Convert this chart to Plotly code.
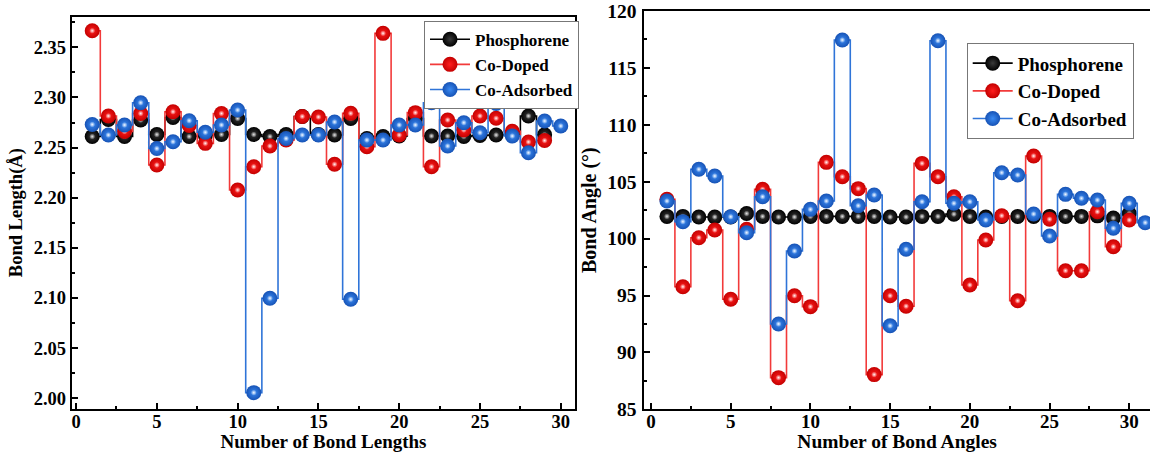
import plotly.graph_objects as go

# ---- bond lengths (Å) ----
len_idx = list(range(1, 30))
len_idx_ads = list(range(1, 31))
phos_len = [2.261, 2.278, 2.261, 2.2775, 2.263, 2.280, 2.261, 2.262, 2.263, 2.279,
            2.263, 2.261, 2.263, 2.281, 2.263, 2.2625, 2.279, 2.259, 2.261, 2.2615,
            2.279, 2.2615, 2.2615, 2.261, 2.262, 2.2625, 2.263, 2.2815, 2.2628]
codoped_len = [2.3665, 2.2815, 2.266, 2.284, 2.2326, 2.2857, 2.272, 2.2542, 2.284, 2.2077,
               2.2309, 2.2515, 2.2575, 2.281, 2.2805, 2.2333, 2.2841, 2.2508, 2.3639, 2.2625,
               2.2848, 2.2309, 2.2775, 2.2675, 2.2815, 2.2792, 2.2663, 2.2556, 2.257]
coads_len = [2.273, 2.2625, 2.2725, 2.2947, 2.249, 2.2558, 2.2768, 2.2652, 2.2725, 2.2874,
             2.0056, 2.0997, 2.259, 2.2625, 2.2625, 2.2755, 2.0987, 2.2575, 2.2575, 2.2725,
             2.2725, 2.2947, 2.2515, 2.2748, 2.2648, 2.294, 2.2615, 2.2448, 2.2765, 2.2715]

# ---- bond angles (°) ----
ang_idx = list(range(1, 31))
ang_idx_ads = list(range(1, 32))
phos_ang = [101.95, 101.95, 101.9, 101.9, 101.9, 102.2, 101.95, 101.9, 101.9, 101.95,
            101.95, 101.95, 101.95, 101.95, 101.9, 101.9, 101.95, 101.95, 102.15, 101.95,
            101.9, 101.95, 101.95, 101.95, 101.95, 101.95, 101.95, 102.0, 101.8, 102.2]
codoped_ang = [103.45, 95.77, 100.08, 100.76, 94.67, 100.82, 104.33, 87.78, 94.98, 94.02,
               106.70, 105.44, 104.39, 88.05, 94.98, 94.06, 106.61, 105.44, 103.68, 95.92,
               99.88, 102.01, 94.54, 107.26, 101.70, 97.18, 97.18, 102.36, 99.29, 101.63]
coads_ang = [103.30, 101.49, 106.09, 105.50, 101.92, 100.52, 103.68, 92.50, 98.91, 102.57,
             103.30, 117.45, 102.89, 103.83, 92.34, 99.06, 103.24, 117.39, 103.10, 103.24,
             101.63, 105.79, 105.59, 102.16, 100.23, 103.89, 103.54, 103.39, 100.91, 103.10,
             101.40]

# line colour, sphere edge colour, sphere core colour, highlight colour
styles = {
    "Phosphorene": ("#000000", "#000000", "#3a3a3a", "rgba(235,235,235,0.95)"),
    "Co-Doped": ("#f23a3a", "#c40000", "#ff1e1e", "rgba(255,255,255,0.95)"),
    "Co-Adsorbed": ("#2f74d8", "#1652b5", "#3a8af2", "rgba(255,255,255,0.95)"),
}

FONT = "Liberation Serif"

fig = go.Figure()


def add_series(x, y, name, xa, ya, legend):
    line_c, edge_c, core_c, hl_c = styles[name]
    fig.add_trace(go.Scatter(
        x=x, y=y, name=name, mode="lines+markers",
        xaxis=xa, yaxis=ya, legend=legend,
        line=dict(shape="hvh", color=line_c, width=1.6),
        marker=dict(size=15, color=edge_c,
                    gradient=dict(type="radial", color=core_c),
                    line=dict(width=0)),
    ))
    # glossy spot on each sphere
    fig.add_trace(go.Scatter(
        x=x, y=y, mode="markers", xaxis=xa, yaxis=ya,
        showlegend=False, hoverinfo="skip",
        marker=dict(size=6, color="rgba(255,255,255,0)",
                    gradient=dict(type="radial", color=hl_c),
                    line=dict(width=0)),
    ))


add_series(len_idx, phos_len, "Phosphorene", "x", "y", "legend")
add_series(len_idx, codoped_len, "Co-Doped", "x", "y", "legend")
add_series(len_idx_ads, coads_len, "Co-Adsorbed", "x", "y", "legend")

add_series(ang_idx, phos_ang, "Phosphorene", "x2", "y2", "legend2")
add_series(ang_idx, codoped_ang, "Co-Doped", "x2", "y2", "legend2")
add_series(ang_idx_ads, coads_ang, "Co-Adsorbed", "x2", "y2", "legend2")

W, H = 1150, 452


def axis(domain, rng, dtick, minor_dtick, title, size, title_size, standoff, anchor,
         tickformat=None, mirror=True, label_standoff=0):
    return dict(
        domain=domain, range=rng, anchor=anchor, autorange=False,
        tick0=0, dtick=dtick, tickformat=tickformat,
        ticks="inside", ticklen=6, tickwidth=2, tickcolor="black",
        ticklabelstandoff=label_standoff,
        showline=True, linewidth=2, linecolor="black", mirror=mirror,
        showgrid=False, zeroline=False, automargin=False,
        tickfont=dict(family=FONT, size=size, color="black", weight="bold"),
        minor=dict(ticks="inside", ticklen=3, tickwidth=1.5, tickcolor="black",
                   dtick=minor_dtick, tick0=0, showgrid=False),
        title=dict(text=title, standoff=standoff,
                   font=dict(family=FONT, size=title_size, color="black", weight="bold")),
    )


fig.update_layout(
    width=W, height=H,
    margin=dict(l=0, r=0, t=0, b=0),
    paper_bgcolor="white", plot_bgcolor="rgba(0,0,0,0)",
    xaxis=axis([71.7 / W, 575.3 / W], [-0.27, 30.9], 5, 2.5,
               "Number of Bond Lengths", 18.5, 19, 2, "y", label_standoff=-5),
    yaxis=axis([1 - 408.7 / H, 1 - 16.7 / H], [1.9896, 2.3805], 0.05, 0.025,
               "Bond Length(Å)", 18.5, 18.5, 6, "x", tickformat=".2f"),
    xaxis2=axis([644.3 / W, 1.0], [-0.42, 31.3], 5, 2.5,
                "Number of Bond Angles", 19, 19.5, 4, "y2", label_standoff=-6),
    yaxis2=axis([1 - 409.3 / H, 1 - 11 / H], [85, 120], 5, 2.5,
                "Bond Angle (°)", 19.5, 20, 5, "x2", mirror=False, label_standoff=2),
    legend=dict(x=424 / W, y=1 - 20.7 / H, xanchor="left", yanchor="top",
                bgcolor="white", bordercolor="#777777", borderwidth=1,
                font=dict(family=FONT, size=17, color="black", weight="bold"),
                itemwidth=40, tracegroupgap=0),
    legend2=dict(x=966.7 / W, y=1 - 43.3 / H, xanchor="left", yanchor="top",
                 bgcolor="white", bordercolor="#777777", borderwidth=1,
                 font=dict(family=FONT, size=19, color="black", weight="bold"),
                 itemwidth=40, tracegroupgap=0),
)

fig.write_html("out.html")
